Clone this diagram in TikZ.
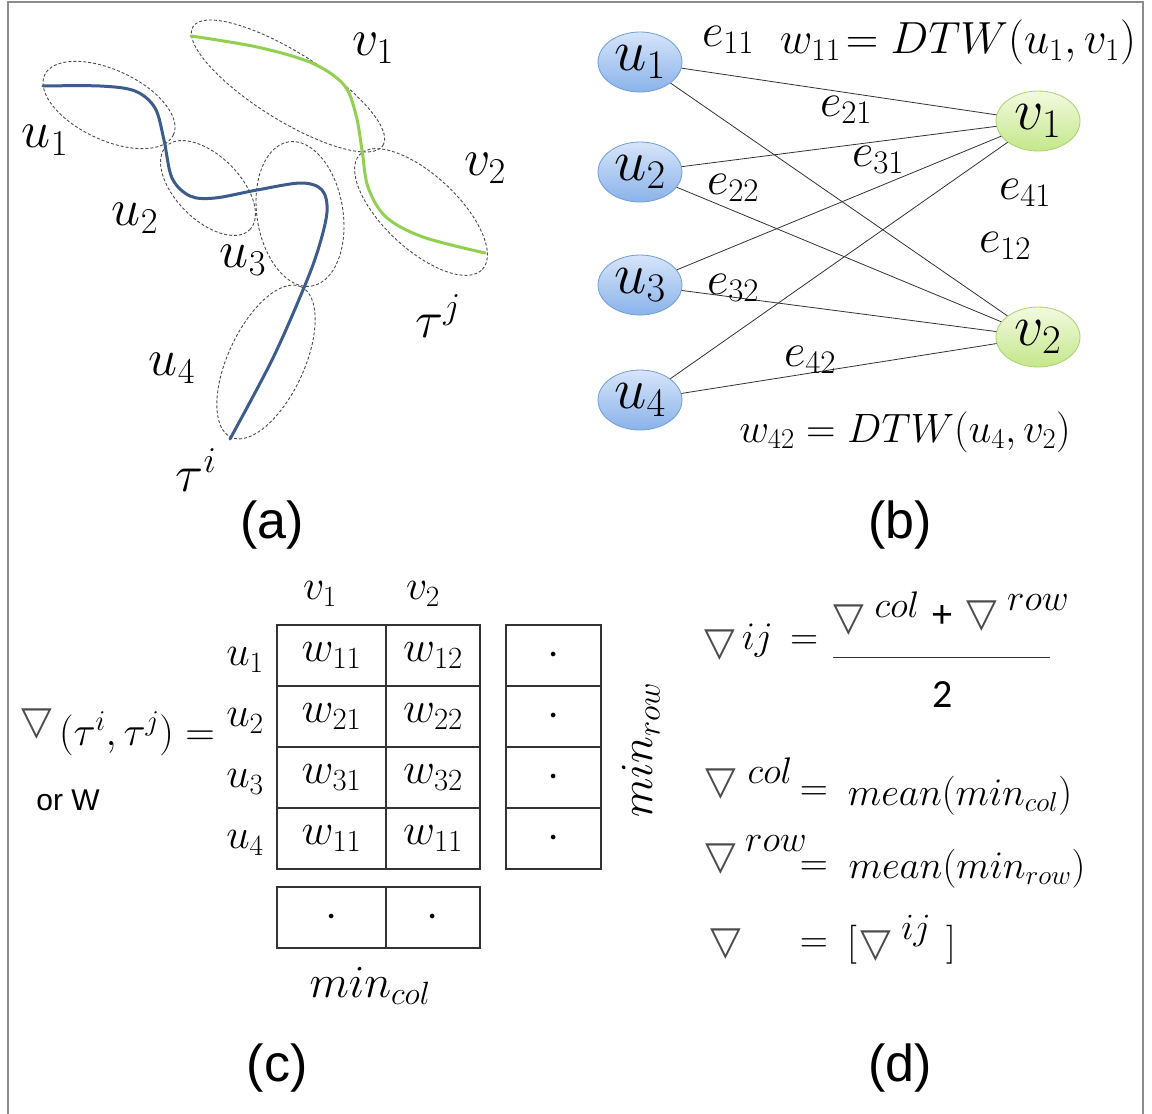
\RequirePackage{fix-cm}
\documentclass[tikz,border=0pt]{standalone}
\usepackage{fontspec}
\newfontfamily\sansf{Liberation Sans}
\newfontfamily\djv{DejaVu Sans}
\newfontfamily\calib{Carlito}
\usetikzlibrary{shapes.geometric}
\definecolor{curveblue}{HTML}{3B5C8C}
\definecolor{curvegreen}{HTML}{92D050}
\definecolor{utop}{HTML}{D6E5FA}
\definecolor{ubot}{HTML}{8AB2EA}
\definecolor{uedge}{HTML}{6F9ED8}
\definecolor{vtop}{HTML}{F3FAE0}
\definecolor{vbot}{HTML}{C4E78A}
\definecolor{vedge}{HTML}{A9D26E}
\newcommand{\mytri}{{\djv ▽}}
\tikzset{
  lblA/.style={font=\fontsize{52}{58}\selectfont, inner sep=0pt},
  gnode/.style={ellipse, minimum width=84pt, minimum height=60pt, inner sep=0pt, font=\fontsize{58}{64}\selectfont},
  unode/.style={gnode, draw=uedge, line width=0.8pt, top color=utop, bottom color=ubot},
  vnode/.style={gnode, draw=vedge, line width=0.8pt, top color=vtop, bottom color=vbot},
  link/.style={draw=black!80, line width=0.8pt},
  elbl/.style={font=\fontsize{47}{52}\selectfont, inner sep=0pt},
  cellbox/.style={draw=black!80, line width=1.2pt, minimum height=61pt, inner sep=0pt, font=\fontsize{44}{50}\selectfont},
  cellA/.style={cellbox, minimum width=109pt},
  cellB/.style={cellbox, minimum width=94pt},
  cellC/.style={cellbox, minimum width=95pt},
  tbl/.style={font=\fontsize{42}{48}\selectfont, inner sep=0pt},
  panel/.style={font=\sansf\fontsize{52}{60}\selectfont, inner sep=0pt},
  trisym/.style={font=\djv\fontsize{40}{46}\selectfont, text=black!70, inner sep=0pt},
  eqd/.style={font=\fontsize{39}{44}\selectfont, inner sep=0pt},
  supd/.style={font=\fontsize{37}{42}\selectfont, inner sep=0pt},
  segell/.style={draw=black!70, line width=0.9pt, dash pattern=on 3pt off 2pt},
  trajline/.style={line width=3pt, line cap=round}
}
\begin{document}
\begin{tikzpicture}[x=1pt,y=-1pt]
\useasboundingbox (0,0) rectangle (1152,1114);
\fill[white] (0,0) rectangle (1152,1114);
% frame
\draw[black!45, line width=1.5pt] (8,1114) -- (8,2) -- (1143,2) -- (1143,1114);

% ---------- (a) ----------
\draw[segell, rotate around={-25:(109,105)}] (109,105) ellipse [x radius=71pt, y radius=35pt];
\draw[segell, rotate around={-45:(208,188)}] (208,188) ellipse [x radius=59pt, y radius=32pt];
\draw[segell, rotate around={-81:(300,214)}] (300,214) ellipse [x radius=73pt, y radius=43pt];
\draw[segell, rotate around={65:(266,362)}] (266,362) ellipse [x radius=83pt, y radius=38pt];
\draw[segell, rotate around={-32:(288,86)}] (288,86) ellipse [x radius=112pt, y radius=34pt];
\draw[segell, rotate around={-43:(421,212)}] (421,212) ellipse [x radius=84pt, y radius=37pt];

\draw[trajline, curveblue] plot[smooth, tension=0.55] coordinates {(43,86) (100,86) (135,91) (155,108) (164,140) (172,178) (190,196) (215,198) (257,190) (301,183) (322,190) (327,212) (318,250) (303,290) (272,360) (230,439)};
\draw[trajline, curvegreen] plot[smooth, tension=0.55] coordinates {(191,36) (257,47) (312,63) (344,85) (356,115) (362,150) (368,187) (386,217) (423,237) (485,253)};

\node[lblA] (av1) at (373,48) {$v_1$};
\node[lblA] (av2) at (485,168) {$v_2$};
\node[lblA] (au1) at (45,140) {$u_1$};
\node[lblA] (au2) at (135,218) {$u_2$};
\node[lblA] (au3) at (243,260) {$u_3$};
\node[lblA] (au4) at (172,368) {$u_4$};
\node[lblA] (taj) at (438,316) {$\tau^j$};
\node[lblA] (tai) at (196,470) {$\tau^i$};
\node[panel] (pa) at (272,525) {(a)};

% ---------- (b) ----------
\node[unode] (u1) at (640,62) {$u_1$};
\node[unode] (u2) at (640,172) {$u_2$};
\node[unode] (u3) at (640,285) {$u_3$};
\node[unode] (u4) at (640,400) {$u_4$};
\node[vnode] (v1) at (1038,121) {$v_1$};
\node[vnode] (v2) at (1038,337) {$v_2$};
\draw[link] (u1) -- (v1);
\draw[link] (u1) -- (v2);
\draw[link] (u2) -- (v1);
\draw[link] (u2) -- (v2);
\draw[link] (u3) -- (v1);
\draw[link] (u3) -- (v2);
\draw[link] (u4) -- (v1);
\draw[link] (u4) -- (v2);
\node[elbl] (e11) at (728,40) {$e_{11}$};
\node[font=\fontsize{45}{50}\selectfont, inner sep=0pt] (w11) at (958,42) {$w_{11}\!=DTW(u_1,v_1)$};
\node[elbl] (e21) at (846,110) {$e_{21}$};
\node[elbl] (e31) at (878,160) {$e_{31}$};
\node[elbl] (e22) at (733,188) {$e_{22}$};
\node[elbl] (e41) at (1025,193) {$e_{41}$};
\node[elbl] (e12) at (1005,246) {$e_{12}$};
\node[elbl] (e32) at (733,288) {$e_{32}$};
\node[elbl] (e42) at (810,360) {$e_{42}$};
\node[font=\fontsize{41}{46}\selectfont, inner sep=0pt] (w42) at (905,432) {$w_{42}=DTW(u_4,v_2)$};
\node[panel] (pb) at (900,525) {(b)};

% ---------- (c) ----------
\node[cellA] (c11) at (331.5,655.5) {$w_{11}$};
\node[cellB] (c12) at (433,655.5) {$w_{12}$};
\node[cellA] (c21) at (331.5,716.5) {$w_{21}$};
\node[cellB] (c22) at (433,716.5) {$w_{22}$};
\node[cellA] (c31) at (331.5,777.5) {$w_{31}$};
\node[cellB] (c32) at (433,777.5) {$w_{32}$};
\node[cellA] (c41) at (331.5,838.5) {$w_{11}$};
\node[cellB] (c42) at (433,838.5) {$w_{11}$};
\node[cellC] (r1) at (553.5,655.5) {$\cdot$};
\node[cellC] (r2) at (553.5,716.5) {$\cdot$};
\node[cellC] (r3) at (553.5,777.5) {$\cdot$};
\node[cellC] (r4) at (553.5,838.5) {$\cdot$};
\node[cellA] (m1) at (331.5,917.5) {$\cdot$};
\node[cellB] (m2) at (433,917.5) {$\cdot$};
\node[tbl] (tv1) at (320,594) {$v_1$};
\node[tbl] (tv2) at (423,594) {$v_2$};
\node[tbl] (tu1) at (245,660) {$u_1$};
\node[tbl] (tu2) at (245,721) {$u_2$};
\node[tbl] (tu3) at (245,782) {$u_3$};
\node[tbl] (tu4) at (245,843) {$u_4$};
\node[font=\fontsize{46}{52}\selectfont, inner sep=0pt, rotate=90] (minrow) at (641,750) {$min_{row}$};
\node[font=\fontsize{46}{52}\selectfont, inner sep=0pt] (mincol) at (370,986) {$min_{col}$};
\node[trisym] (tric) at (37,724) {\mytri};
\node[font=\fontsize{41}{46}\selectfont, inner sep=0pt] (tauij) at (137,734) {$(\tau^i,\tau^j)=$};
\node[font=\sansf\fontsize{30}{36}\selectfont, inner sep=0pt] (orw) at (68,800) {or W};
\node[panel] (pc) at (277,1068) {(c)};

% ---------- (d) ----------
\node[trisym] (d1t) at (720,645) {\mytri};
\node[eqd] (d1ij) at (780,640) {$ij\,=$};
\node[trisym] (d1n1) at (849,620) {\mytri};
\node[supd] (d1col) at (897,605) {$col$};
\node[font=\calib\fontsize{40}{46}\selectfont, inner sep=0pt] (d1plus) at (942,616) {+};
\node[trisym] (d1n2) at (982,616) {\mytri};
\node[supd] (d1row) at (1038,603) {$row$};
\draw[black!80, line width=0.8pt] (833,657) -- (1050,657);
\node[font=\calib\fontsize{40}{46}\selectfont, inner sep=0pt] (d1two) at (943,695) {2};

\node[trisym] (d2t) at (721,784) {\mytri};
\node[supd] (d2col) at (770,771) {$col$};
\node[eqd] (d2eq) at (814,794) {$=$};
\node[eqd] (d2rhs) at (960,796) {$mean(min_{col})$};

\node[trisym] (d3t) at (721,859) {\mytri};
\node[supd] (d3row) at (776,844) {$row$};
\node[eqd] (d3eq) at (814,869) {$=$};
\node[eqd] (d3rhs) at (967,869) {$mean(min_{row})$};

\node[trisym] (d4t) at (726,944) {\mytri};
\node[eqd] (d4eq) at (814,946) {$=$};
\node[eqd] (d4l) at (852,945) {$[$};
\node[trisym] (d4n) at (876,946) {\mytri};
\node[supd] (d4ij) at (916,931) {$ij$};
\node[eqd] (d4r) at (951,945) {$]$};
\node[panel] (pd) at (900,1068) {(d)};
\end{tikzpicture}
\end{document}
